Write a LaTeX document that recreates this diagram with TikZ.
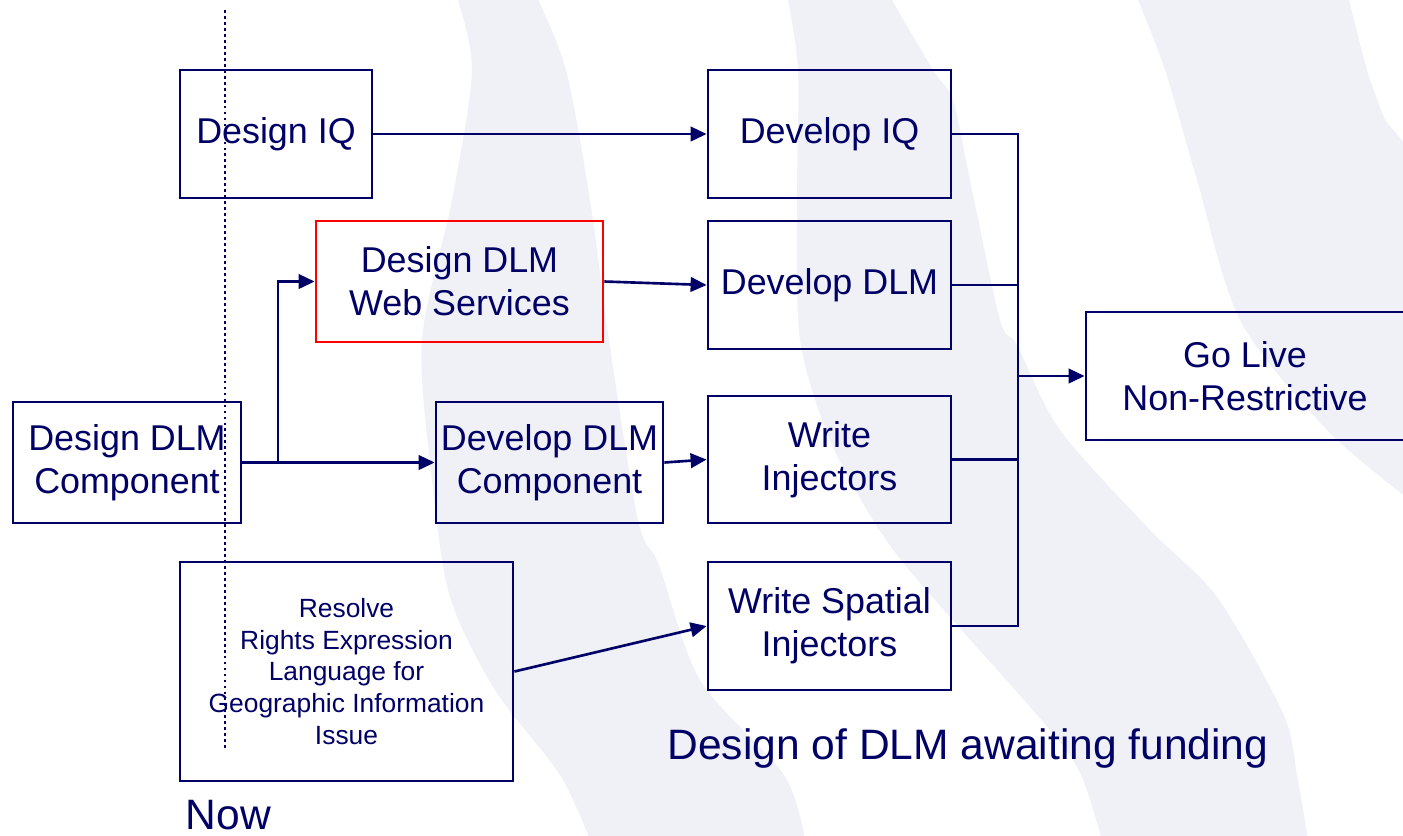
\documentclass[tikz,border=0pt]{standalone}
\usepackage{fontspec}
\setmainfont{Liberation Sans}
\usepackage{tikz}
\usetikzlibrary{arrows.meta}
\definecolor{navy}{RGB}{0,0,102}
\definecolor{swoosh}{RGB}{240,241,247}

\begin{document}
\begin{tikzpicture}[x=0.01cm, y=-0.01cm,
    box/.style={rectangle, draw=navy, line width=0.75pt, text=navy, align=center,
        inner sep=0pt, font=\fontsize{10.2}{12.3}\selectfont},
    wire/.style={draw=navy, line width=0.75pt},
    link/.style={wire, -{Triangle[length=0.16cm, width=0.145cm]}} ]
    \useasboundingbox (0,0) rectangle (1403,835);
    \clip (0,0) rectangle (1403,835);
    % background swooshes
    \fill[swoosh] plot[smooth] coordinates {(456,-5) (472,70) (452,200) (422,340) (432,480) (450,597) (495,690) (560,775) (590,840)}
        -- plot[smooth] coordinates {(805,840) (784,775) (700,680) (659,565) (638,520) (609,340) (590,200) (566,70) (536,-5)} -- cycle;
    \fill[swoosh] plot[smooth] coordinates {(787,-5) (798,70) (797,200) (800,340) (830,440) (873,520) (905,565) (950,617) (1050,730) (1081,775) (1102,840)}
        -- plot[smooth] coordinates {(1308,840) (1297,775) (1283,713) (1217,597) (1150,530) (1060,430) (1017,345) (1000,320) (970,180) (953,100) (933,70) (889,-5)} -- cycle;
    \fill[swoosh] plot[smooth] coordinates {(1136,-5) (1165,70) (1197,180) (1240,320) (1327,430) (1410,500)}
        -- (1410,150) -- plot[smooth] coordinates {(1385,120) (1367,70) (1348,-5)} -- cycle;

    \node[box, minimum width=1.92cm, minimum height=1.28cm] (designiq) at (276,134) {Design IQ};
    \node[box, minimum width=2.43cm, minimum height=1.28cm] (developiq) at (829.5,134) {Develop IQ};
    \node[box, draw=red, minimum width=2.87cm, minimum height=1.21cm] (webserv) at (459.5,281.5) {Design DLM\\Web Services};
    \node[box, minimum width=2.43cm, minimum height=1.28cm] (developdlm) at (829.5,285) {Develop DLM};
    \node[box, minimum width=3.18cm, minimum height=1.28cm] (golive) at (1245,376) {Go Live\\Non-Restrictive};
    \node[box, minimum width=2.28cm, minimum height=1.21cm] (designcomp) at (127,462.5) {Design DLM\\Component};
    \node[box, minimum width=2.27cm, minimum height=1.21cm] (developcomp) at (549.5,462.5) {Develop DLM\\Component};
    \node[box, minimum width=2.43cm, minimum height=1.27cm] (writeinj) at (829.5,459.5) {Write\\Injectors};
    \node[box, minimum width=2.43cm, minimum height=1.28cm] (writespatial) at (829.5,626) {Write Spatial\\Injectors};
    \node[box, minimum width=3.33cm, minimum height=2.19cm, font=\fontsize{7.5}{9}\selectfont] (resolve) at (346.5,671.5)
        {Resolve\\Rights Expression\\Language for\\Geographic Information\\Issue};

    \node[text=navy, anchor=base, font=\fontsize{12.1}{14}\selectfont, inner sep=0pt] (funding) at (968,759) {Design of DLM awaiting funding};
    \node[text=navy, anchor=base west, font=\fontsize{12.1}{14}\selectfont, inner sep=0pt] (now) at (185,829) {Now};

    % now line
    \coordinate (nowtop) at (225,10);
    \coordinate (nowbot) at (225,748);
    \draw[navy, line width=0.8pt, dash pattern=on 0.8pt off 0.9pt] (nowtop) -- (nowbot);

    \coordinate (split) at (278,462.5);
    \coordinate (bustop) at (1018,134);
    \coordinate (busmid) at (1018,376);
    \coordinate (busbot) at (1018,626);

    \draw[link] (designiq.east) -- (developiq.west);
    \draw[link] (webserv.east) -- (developdlm.west);
    \draw[link] (designcomp.east) -- (developcomp.west);
    \draw[link] (split) |- (webserv.west);
    \draw[link] (developcomp.east) -- (writeinj.west);
    \draw[link] (resolve.east) -- (writespatial.west);
    \draw[wire] (developiq.east) -- (bustop) -- (busbot) -- (writespatial.east);
    \draw[wire] (developdlm.east) -- (developdlm.east -| bustop);
    \draw[wire] (writeinj.east) -- (writeinj.east -| bustop);
    \draw[link] (busmid) -- (golive.west);
\end{tikzpicture}
\end{document}
